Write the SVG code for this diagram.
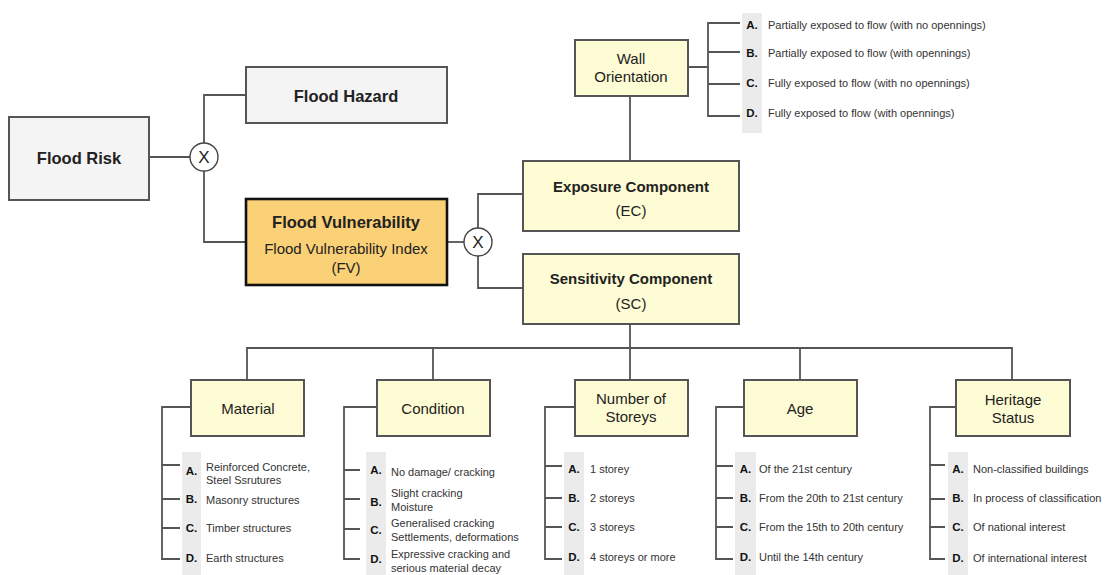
<svg xmlns="http://www.w3.org/2000/svg" width="1107" height="575" viewBox="0 0 1107 575">
<style>
.box{stroke:#555;stroke-width:2}
.gray{fill:#f4f4f4}
.yel{fill:#fefcd5}
.fv{fill:#fbd177;stroke:#111;stroke-width:2.6}
.ln{fill:none;stroke:#555;stroke-width:1.8}
.band{fill:#ebebeb}
.op{fill:#fff;stroke:#444;stroke-width:1.4}
text{font-family:"Liberation Sans",Arial,sans-serif;fill:#222}
.tb{font-weight:bold;font-size:16.5px;text-anchor:middle}
.tc{font-weight:bold;font-size:15px;text-anchor:middle}
.tr{font-size:15px;text-anchor:middle}
.lt{font-weight:bold;font-size:11.5px;text-anchor:middle;fill:#111}
.it{font-size:11px;fill:#333}
.xs{font-size:17px;text-anchor:middle;fill:#222}
</style>
<rect width="1107" height="575" fill="#fff"/>
<g id="connectors">
<path class="ln" d="M149,157H190"/>
<path class="ln" d="M204,143V95H246"/>
<path class="ln" d="M204,171V242H246"/>
<path class="ln" d="M447,242H464"/>
<path class="ln" d="M478,228V194H523"/>
<path class="ln" d="M478,256V288H523"/>
<path class="ln" d="M630,96V161"/>
<path class="ln" d="M688,67H708M740,23H708V116H740M708,52H740M708,84H740"/>
<path class="ln" d="M630,324V348M247,380V348H1012V380M433,348V380M630,348V380M800,348V380"/>
<path class="ln" d="M191,407H162V559H180M162,465H180M162,499H180M162,528H180"/>
<path class="ln" d="M377,407H344V559H360M344,470H360M344,499H360M344,529H360"/>
<path class="ln" d="M575,407H545V559H562M545,466H562M545,498H562M545,527H562"/>
<path class="ln" d="M744,407H716V559H733M716,466H733M716,498H733M716,527H733"/>
<path class="ln" d="M956,407H930V559H945M930,465H945M930,499H945M930,527H945"/>
</g>
<g id="op1"><circle class="op" cx="204" cy="157" r="14"/><text class="xs" x="204" y="163">X</text></g>
<g id="op2"><circle class="op" cx="478" cy="242" r="14"/><text class="xs" x="478" y="248">X</text></g>
<g id="flood-risk"><rect class="box gray" x="9" y="117" width="140" height="83"/><text class="tb" x="79" y="164">Flood Risk</text></g>
<g id="flood-hazard"><rect class="box gray" x="246" y="67" width="201" height="56"/><text class="tb" x="346" y="102">Flood Hazard</text></g>
<g id="flood-vulnerability"><rect class="fv" x="246" y="199" width="201" height="86"/><text class="tb" x="346" y="228">Flood Vulnerability</text><text class="tr" x="346" y="254">Flood Vulnerability Index</text><text class="tr" x="346" y="273">(FV)</text></g>
<g id="exposure"><rect class="box yel" x="523" y="161" width="216" height="70"/><text class="tc" x="631" y="192">Exposure Component</text><text class="tr" x="631" y="216">(EC)</text></g>
<g id="sensitivity"><rect class="box yel" x="523" y="254" width="216" height="70"/><text class="tc" x="631" y="284">Sensitivity Component</text><text class="tr" x="631" y="309">(SC)</text></g>
<g id="wall-orientation"><rect class="box yel" x="575" y="40" width="113" height="56"/><text class="tr" x="631" y="64">Wall</text><text class="tr" x="631" y="82">Orientation</text>
<rect class="band" x="742" y="13" width="20" height="120"/>
<text class="lt" x="752" y="29">A.</text><text class="it" x="768" y="29">Partially exposed to flow (with no opennings)</text>
<text class="lt" x="752" y="57">B.</text><text class="it" x="768" y="57">Partially exposed to flow (with opennings)</text>
<text class="lt" x="752" y="87">C.</text><text class="it" x="768" y="87">Fully exposed to flow (with no opennings)</text>
<text class="lt" x="752" y="117">D.</text><text class="it" x="768" y="117">Fully exposed to flow (with opennings)</text>
</g>
<g id="material"><rect class="box yel" x="191" y="380" width="113" height="56"/><text class="tr" x="248" y="414">Material</text>
<rect class="band" x="182" y="452" width="19" height="123"/>
<text class="lt" x="191.5" y="475">A.</text><text class="it" x="206" y="471">Reinforced Concrete,</text><text class="it" x="206" y="484">Steel Ssrutures</text>
<text class="lt" x="191.5" y="503">B.</text><text class="it" x="206" y="504">Masonry structures</text>
<text class="lt" x="191.5" y="532">C.</text><text class="it" x="206" y="532">Timber structures</text>
<text class="lt" x="191.5" y="562">D.</text><text class="it" x="206" y="562">Earth structures</text>
</g>
<g id="condition"><rect class="box yel" x="377" y="380" width="113" height="56"/><text class="tr" x="433" y="414">Condition</text>
<rect class="band" x="366" y="452" width="20" height="123"/>
<text class="lt" x="376" y="474">A.</text><text class="it" x="391" y="476">No damage/ cracking</text>
<text class="lt" x="376" y="506">B.</text><text class="it" x="391" y="497">Slight cracking</text><text class="it" x="391" y="511">Moisture</text>
<text class="lt" x="376" y="534">C.</text><text class="it" x="391" y="527">Generalised cracking</text><text class="it" x="391" y="541">Settlements, deformations</text>
<text class="lt" x="376" y="563">D.</text><text class="it" x="391" y="558">Expressive cracking and</text><text class="it" x="391" y="572">serious material decay</text>
</g>
<g id="storeys"><rect class="box yel" x="575" y="380" width="113" height="56"/><text class="tr" x="631" y="404">Number of</text><text class="tr" x="631" y="422">Storeys</text>
<rect class="band" x="564" y="452" width="20" height="123"/>
<text class="lt" x="574" y="473">A.</text><text class="it" x="590" y="473">1 storey</text>
<text class="lt" x="574" y="502">B.</text><text class="it" x="590" y="502">2 storeys</text>
<text class="lt" x="574" y="531">C.</text><text class="it" x="590" y="531">3 storeys</text>
<text class="lt" x="574" y="561">D.</text><text class="it" x="590" y="561">4 storeys or more</text>
</g>
<g id="age"><rect class="box yel" x="744" y="380" width="113" height="56"/><text class="tr" x="800" y="414">Age</text>
<rect class="band" x="735" y="452" width="21" height="123"/>
<text class="lt" x="745.5" y="473">A.</text><text class="it" x="759" y="473">Of the 21st century</text>
<text class="lt" x="745.5" y="502">B.</text><text class="it" x="759" y="502">From the 20th to 21st century</text>
<text class="lt" x="745.5" y="531">C.</text><text class="it" x="759" y="531">From the 15th to 20th century</text>
<text class="lt" x="745.5" y="561">D.</text><text class="it" x="759" y="561">Until the 14th century</text>
</g>
<g id="heritage"><rect class="box yel" x="956" y="380" width="114" height="56"/><text class="tr" x="1013" y="405">Heritage</text><text class="tr" x="1013" y="423">Status</text>
<rect class="band" x="948" y="452" width="20" height="123"/>
<text class="lt" x="958" y="473">A.</text><text class="it" x="973" y="473">Non-classified buildings</text>
<text class="lt" x="958" y="502">B.</text><text class="it" x="973" y="502">In process of classification</text>
<text class="lt" x="958" y="531">C.</text><text class="it" x="973" y="531">Of national interest</text>
<text class="lt" x="958" y="562">D.</text><text class="it" x="973" y="562">Of international interest</text>
</g>
</svg>
